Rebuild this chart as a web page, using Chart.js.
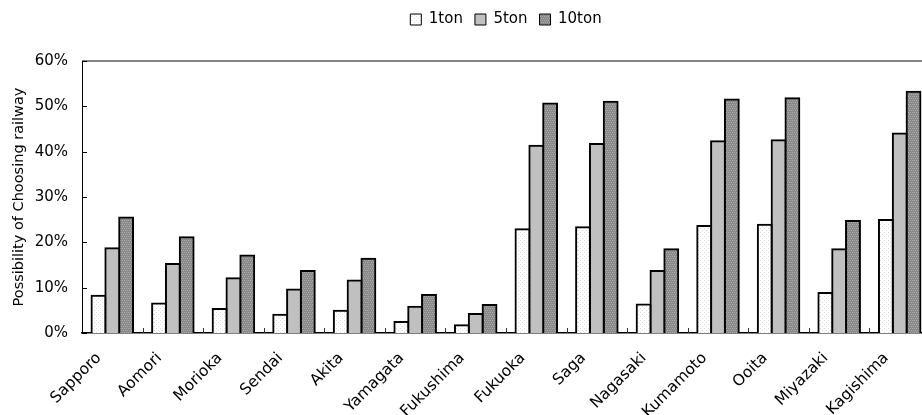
<!DOCTYPE html>
<html>
<head>
<meta charset="utf-8">
<script src="https://cdn.jsdelivr.net/npm/chart.js@4.4.1/dist/chart.umd.min.js"></script>
<style>
  html, body { margin: 0; padding: 0; background: #fff; overflow: hidden; }
  #wrap { position: relative; width: 930px; height: 415px; }
</style>
</head>
<body>
<div id="wrap"><canvas id="c" width="930" height="415"></canvas></div>
<script>
// Share of freight choosing railway, by city and lot size (percent)
const cities = ['Sapporo', 'Aomori', 'Morioka', 'Sendai', 'Akita', 'Yamagata', 'Fukushima',
                'Fukuoka', 'Saga', 'Nagasaki', 'Kumamoto', 'Ooita', 'Miyazaki', 'Kagishima'];
const seriesNames = ['1ton', '5ton', '10ton'];
const ton1  = [8.2, 6.5, 5.3, 4.0, 4.9, 2.4, 1.7, 22.9, 23.3, 6.3, 23.6, 23.9, 8.8, 24.9];
const ton5  = [18.7, 15.2, 12.1, 9.6, 11.6, 5.8, 4.2, 41.3, 41.7, 13.7, 42.3, 42.5, 18.5, 44.0];
const ton10 = [25.5, 21.1, 17.1, 13.7, 16.4, 8.4, 6.2, 50.6, 51.0, 18.5, 51.5, 51.8, 24.7, 53.2];
const yTicks = [0, 10, 20, 30, 40, 50, 60];
const yTitle = 'Possibility of Choosing railway';

const FONT = 'DejaVu Sans';

// small dotted fills for the bars
function dotPattern(bg, dot, spots) {
  const t = document.createElement('canvas');
  t.width = 4; t.height = 4;
  const g = t.getContext('2d');
  g.fillStyle = bg; g.fillRect(0, 0, 4, 4);
  g.fillStyle = dot;
  spots.forEach(([px, py]) => g.fillRect(px, py, 1, 1));
  return g.createPattern(t, 'repeat');
}
const fill1 = dotPattern('#ffffff', '#dcdcdc', [[0, 0], [2, 2]]);
const fill5 = '#c0c0c0';
const fill10 = dotPattern('#898989', '#ababab', [[0, 0], [2, 0], [1, 2], [3, 2]]);

// frame details: grey top edge, inward ticks on both axes
const frameTicks = {
  id: 'frameTicks',
  afterDatasetsDraw(chart) {
    const { ctx, chartArea: a, scales: { x, y } } = chart;
    ctx.save();
    ctx.strokeStyle = '#858585';
    ctx.lineWidth = 2;
    ctx.beginPath();
    ctx.moveTo(a.left, a.top);
    ctx.lineTo(a.right, a.top);
    ctx.stroke();

    ctx.strokeStyle = '#000';
    ctx.lineWidth = 1;
    y.ticks.forEach(t => {
      const py = Math.round(y.getPixelForValue(t.value)) + 0.5;
      ctx.beginPath();
      ctx.moveTo(a.left, py);
      ctx.lineTo(a.left + 5, py);
      ctx.stroke();
    });

    const half = (x.getPixelForValue(1) - x.getPixelForValue(0)) / 2;
    ctx.strokeStyle = '#333';
    for (let i = 1; i < cities.length; i++) {
      const px = Math.round(x.getPixelForValue(i) - half) + 0.5;
      ctx.beginPath();
      ctx.moveTo(px, a.bottom);
      ctx.lineTo(px, a.bottom - 5);
      ctx.stroke();
    }
    ctx.restore();
  }
};

// extra room under the legend
const legendGap = {
  id: 'legendGap',
  beforeInit(chart) {
    const fit = chart.legend.fit;
    chart.legend.fit = function () {
      fit.call(this);
      this.height += 24;
    };
  }
};

const barStyle = { borderColor: '#000', borderWidth: 2, inflateAmount: 1, barPercentage: 1.0, categoryPercentage: 0.685 };

new Chart(document.getElementById('c'), {
  type: 'bar',
  data: {
    labels: cities,
    datasets: [
      { label: seriesNames[0], data: ton1, backgroundColor: fill1, ...barStyle },
      { label: seriesNames[1], data: ton5, backgroundColor: fill5, ...barStyle },
      { label: seriesNames[2], data: ton10, backgroundColor: fill10, ...barStyle }
    ]
  },
  options: {
    responsive: false,
    animation: false,
    events: [],
    layout: { padding: { top: 0, left: 0, right: 0, bottom: 0 } },
    plugins: {
      tooltip: { enabled: false },
      legend: {
        position: 'top',
        fullSize: false,
        labels: {
          boxWidth: 11,
          boxHeight: 11,
          padding: 12,
          color: '#000',
          font: { family: FONT, size: 15 },
          generateLabels(chart) {
            const items = Chart.defaults.plugins.legend.labels.generateLabels(chart);
            items.forEach(it => { it.lineWidth = 1; it.strokeStyle = '#000'; });
            return items;
          }
        }
      }
    },
    scales: {
      x: {
        offset: true,
        grid: { display: false, drawTicks: false },
        border: { display: true, color: '#000', width: 1.5 },
        ticks: {
          color: '#000',
          font: { family: FONT, size: 15.5 },
          minRotation: 45,
          maxRotation: 45,
          autoSkip: false,
          padding: 16,
          labelOffset: -13.5
        },
        afterFit(s) { s.height = 82; }
      },
      y: {
        min: 0,
        max: 60,
        grid: { display: false, drawTicks: false },
        border: { display: true, color: '#000', width: 1 },
        afterBuildTicks(s) { s.ticks = yTicks.map(v => ({ value: v })); },
        ticks: {
          color: '#000',
          font: { family: FONT, size: 15 },
          padding: 14,
          callback: v => v + '%'
        },
        title: {
          display: true,
          text: yTitle,
          color: '#000',
          font: { family: FONT, size: 14.5 },
          padding: { top: 11, bottom: 0 }
        },
        afterFit(s) { s.width = 82; }
      }
    }
  },
  plugins: [frameTicks, legendGap]
});
</script>
</body>
</html>
